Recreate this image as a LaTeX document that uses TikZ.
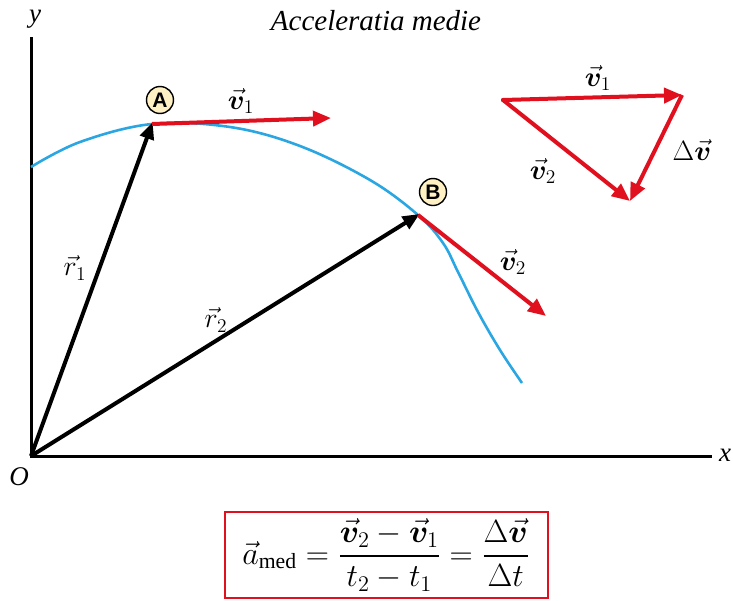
\documentclass[tikz,border=0pt]{standalone}
\usepackage{amsmath,amssymb,bm}
\usepackage{graphicx}
\usepackage{fontspec}
\setmainfont{Liberation Serif}
\newfontfamily\labsans{Liberation Sans}
\usetikzlibrary{arrows.meta}
\newcommand{\lbx}[1]{\scalebox{1.35}{#1}}
\definecolor{vred}{HTML}{E0101E}
\definecolor{cblue}{HTML}{2AA6E2}
\definecolor{cream}{HTML}{FFF1C4}
\tikzset{
  axisline/.style={line width=3pt, black},
  rvec/.style={line width=4pt, black, -{Triangle[length=17pt,width=14pt]}, shorten >=-2pt},
  vvec/.style={line width=4pt, vred, -{Triangle[length=18pt,width=15pt]}},
  lab/.style={font=\fontsize{20}{24}\selectfont, inner sep=0pt},
  tlab/.style={font=\fontsize{27}{30}\selectfont\itshape, inner sep=0pt},
  pt/.style={circle, draw=black, line width=1.4pt, fill=cream, minimum size=27pt, inner sep=0pt, font=\labsans\bfseries\fontsize{21}{22}\selectfont},
  formbox/.style={draw=vred, line width=2pt, minimum width=323pt, minimum height=86pt, inner sep=0pt, font=\fontsize{20}{24}\selectfont},
}
\begin{document}
\begin{tikzpicture}[x=1pt,y=-1pt]
\useasboundingbox (0,0) rectangle (733,600);
% axes
\coordinate (O) at (31,456);
\coordinate (ytop) at (31,37);
\coordinate (xend) at (712,456);
\draw[axisline] (ytop) -- (O) -- (xend);
\node[tlab] (ylab) at (35,19) {y};
\node[tlab] (xlab) at (725,455) {x};
\node[tlab] (olab) at (19,477) {O};
\node[tlab, font=\fontsize{29}{32}\selectfont\itshape] (title) at (376,21) {Acceleratia medie};
% curve
\draw[cblue, line width=2.6pt] plot[smooth, tension=0.6] coordinates {(31,167) (80,142) (152,124) (230,127) (300,146) (370,180) (418,215) (443,243) (458,272) (478,312) (500,350) (522,383)};
% points
\coordinate (A) at (152,124);
\coordinate (B) at (418,215);
\coordinate (v1tip) at (331,118);
\coordinate (v2tip) at (546,316);
\draw[rvec] (O) -- (A);
\draw[rvec] (O) -- (B);
\draw[vvec] (A) -- (v1tip);
\draw[vvec] (B) -- (v2tip);
\node[pt] (Alab) at (160,100) {A};
\node[pt] (Blab) at (433,192) {B};
\node[lab] (r1lab) at (75,268) {\lbx{$\vec{r}_1$}};
\node[lab] (r2lab) at (216,320) {\lbx{$\vec{r}_2$}};
\node[lab] (v1lab) at (241,101) {\lbx{$\vec{\bm v}_1$}};
\node[lab] (v2lab) at (513,262) {\lbx{$\vec{\bm v}_2$}};
% triangle
\coordinate (P) at (503,100);
\coordinate (Q) at (682,95);
\coordinate (R) at (630,201);
\draw[vvec, line cap=round] (P) -- (Q);
\draw[vvec, line cap=round] (P) -- (R);
\draw[vvec] (Q) -- (R);
\node[lab] (tv1) at (598,78) {\lbx{$\vec{\bm v}_1$}};
\node[lab] (tv2) at (543,171) {\lbx{$\vec{\bm v}_2$}};
\node[lab] (tdv) at (692,150) {\lbx{$\Delta\vec{\bm v}$}};
% formula
\node[formbox] (formula) at (386,555) {\scalebox{1.55}{$\displaystyle \vec{a}_{\mathrm{med}} = \frac{\vec{\bm v}_2 - \vec{\bm v}_1}{t_2 - t_1} = \frac{\Delta\vec{\bm v}}{\Delta t}$}};
\end{tikzpicture}
\end{document}
